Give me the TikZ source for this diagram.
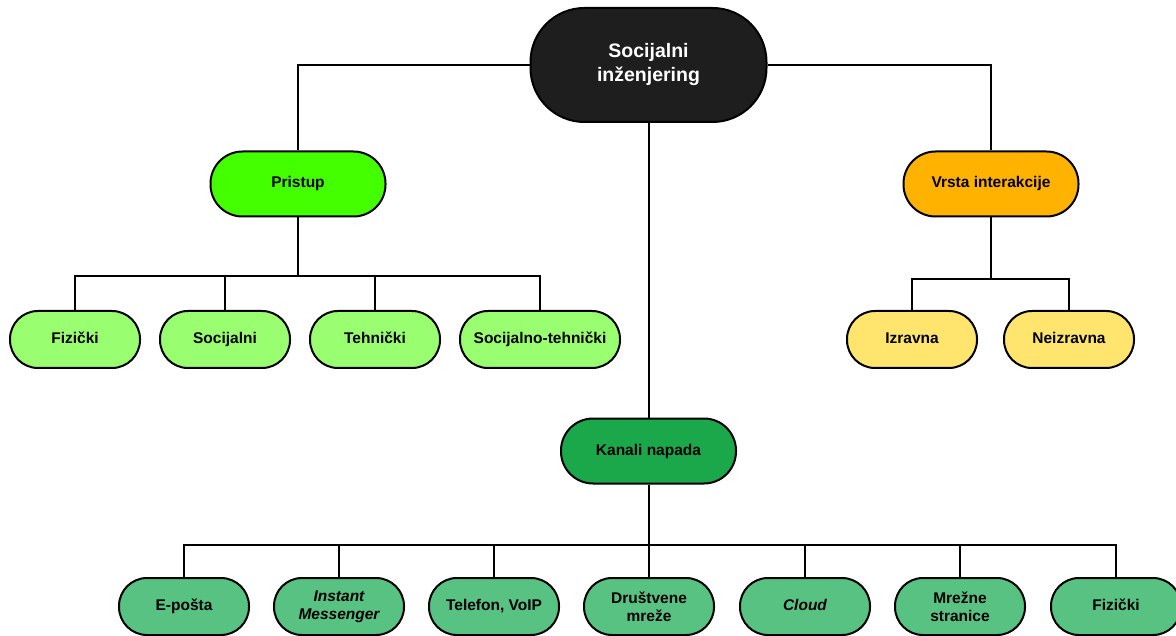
\documentclass[tikz,border=0pt]{standalone}
\usepackage{fontspec}
\setmainfont{Liberation Sans}
\definecolor{rootc}{HTML}{1E1E1E}
\definecolor{pristc}{HTML}{44FF00}
\definecolor{pchild}{HTML}{99FF70}
\definecolor{vrstac}{HTML}{FFB300}
\definecolor{vchild}{HTML}{FFE56E}
\definecolor{kanc}{HTML}{1AA84A}
\definecolor{kchild}{HTML}{57C281}
\begin{document}
\begin{tikzpicture}[x=1pt,y=-1pt,
  box/.style={draw=black, line width=2pt, rounded corners=28pt, minimum width=130pt,
    minimum height=57pt, align=center, inner sep=0pt,
    font=\bfseries\fontsize{15.5}{18}\selectfont},
  one/.style={text height=11.5pt, text depth=3.5pt},
  midbox/.style={box, one, minimum width=175pt, minimum height=65pt, rounded corners=32pt},
  rootbox/.style={box, minimum width=236pt, minimum height=114pt, rounded corners=54pt,
    fill=rootc, text=white, font=\bfseries\fontsize{19.5}{24}\selectfont},
  link/.style={draw=black, line width=2pt}]
\useasboundingbox (0,0) rectangle (1176,636);
% nodes
\node[rootbox] (root) at (648.5,65) {Socijalni\\inženjering};
\node[midbox, fill=pristc] (prist) at (298,184) {Pristup};
\node[midbox, fill=vrstac] (vrsta) at (991,184) {Vrsta interakcije};
\node[midbox, fill=kanc] (kanali) at (648.5,451) {Kanali napada};
\node[box, one, fill=pchild] (pfiz) at (75,339.5) {Fizički};
\node[box, one, fill=pchild] (psoc) at (225,339.5) {Socijalni};
\node[box, one, fill=pchild] (ptech) at (375,339.5) {Tehnički};
\node[box, one, fill=pchild, minimum width=160pt] (pst) at (540,339.5) {Socijalno-tehnički};
\node[box, one, fill=vchild] (izr) at (912,339.5) {Izravna};
\node[box, one, fill=vchild] (neizr) at (1069,339.5) {Neizravna};
\node[box, one, fill=kchild] (k1) at (184,606.5) {E-pošta};
\node[box, fill=kchild] (k2) at (339,606.5) {\itshape Instant\\\itshape Messenger};
\node[box, one, fill=kchild] (k3) at (494,606.5) {Telefon, VoIP};
\node[box, fill=kchild] (k4) at (649,606.5) {Društvene\\mreže};
\node[box, one, fill=kchild] (k5) at (805,606.5) {\itshape Cloud};
\node[box, fill=kchild] (k6) at (960,606.5) {Mrežne\\stranice};
\node[box, one, fill=kchild] (k7) at (1116,606.5) {Fizički};
% bus coordinates
\coordinate (bp) at (298,276);
\coordinate (bv) at (991,279);
\coordinate (bk) at (648.5,545);
% connectors
\draw[link] (root.west) -| (prist.north);
\draw[link] (root.east) -| (vrsta.north);
\draw[link] (root.south) -- (kanali.north);
\draw[link] (prist.south) -- (bp);
\draw[link] (vrsta.south) -- (bv);
\draw[link] (kanali.south) -- (bk);
\foreach \n in {pfiz,psoc,ptech,pst} \draw[link] (bp) -| (\n.north);
\foreach \n in {izr,neizr} \draw[link] (bv) -| (\n.north);
\foreach \n in {k1,k2,k3,k4,k5,k6,k7} \draw[link] (bk) -| (\n.north);
\end{tikzpicture}
\end{document}
